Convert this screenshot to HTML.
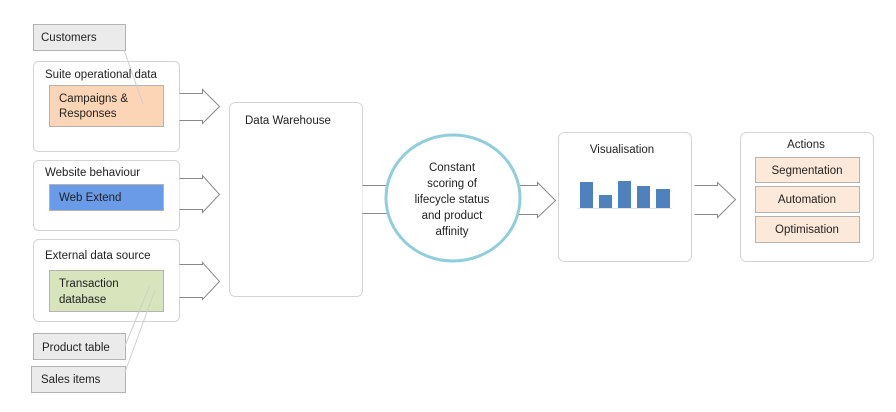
<!DOCTYPE html>
<html><head><meta charset="utf-8"><style>body{margin:0;background:#fff}svg{display:block}text{font-family:"Liberation Sans",sans-serif;font-size:11.5px;fill:#222}</style></head><body>
<svg width="896" height="412" viewBox="0 0 896 412" xmlns="http://www.w3.org/2000/svg">
<g fill="#fff" stroke="#d4d4d4">
<rect x="33.5" y="61.5" width="146" height="90" rx="5"/>
<rect x="33.5" y="160.5" width="146" height="70" rx="5"/>
<rect x="33.5" y="239.5" width="146" height="82" rx="5"/>
<rect x="229.5" y="102.5" width="133" height="194" rx="6"/>
<rect x="558.5" y="132.5" width="133" height="129" rx="6"/>
<rect x="740.5" y="132.5" width="133" height="129" rx="6"/>
</g>
<g stroke="#b3b3b3">
<rect x="33.5" y="24.5" width="92" height="26" fill="#ebebeb"/>
<rect x="33.5" y="333.5" width="92" height="26" fill="#ebebeb"/>
<rect x="31.5" y="366.5" width="94" height="26" fill="#ebebeb"/>
<rect x="49.5" y="85.5" width="114" height="41" fill="#fbd5b5"/>
<rect x="49.5" y="184.5" width="114" height="26" fill="#6a9be6"/>
<rect x="49.5" y="270.5" width="114" height="41" fill="#d8e4bc"/>
<rect x="755.5" y="157.5" width="104" height="25" fill="#fde9d9"/>
<rect x="755.5" y="186.5" width="104" height="26" fill="#fde9d9"/>
<rect x="755.5" y="216.5" width="104" height="26" fill="#fde9d9"/>
</g>
<g stroke="#cfcfcf" fill="none">
<line x1="124" y1="50" x2="143" y2="104"/>
<line x1="125" y1="346" x2="150" y2="285"/>
<line x1="125" y1="372" x2="155" y2="290"/>
</g>
<g fill="#fff" stroke="#888">
<path d="M179.5 93.5H202.5V89.5L219.5 106.5L202.5 123.5V120.5H179.5"/>
<path d="M179.5 178.5H202.5V175.5L219.5 194.5L202.5 212.5V209.5H179.5"/>
<path d="M179.5 264.5H202.5V262.5L219.5 281.5L202.5 299.5V297.5H179.5"/>
<path d="M362.5 185.5H395V213.5H362.5"/>
<path d="M515 185.5H537.5V182.5L555.5 200.5L537.5 217.5V214.5H515"/>
<path d="M694.5 185.5H717.5V182.5L735.5 199.5L717.5 217.5V214.5H694.5"/>
</g>
<ellipse cx="453" cy="198" rx="67" ry="63" fill="#fff" stroke="#92cddc" stroke-width="3"/>
<g fill="#4f81bd">
<rect x="580" y="182" width="13" height="26"/>
<rect x="599" y="195" width="13" height="13"/>
<rect x="618" y="181" width="13" height="27"/>
<rect x="637" y="186" width="13" height="22"/>
<rect x="656" y="189" width="14" height="19"/>
</g>
<line x1="577" y1="208.5" x2="672" y2="208.5" stroke="#e6e6e6"/>
<text x="41" y="41">Customers</text>
<text x="45" y="78">Suite operational data</text>
<text x="59" y="102">Campaigns &amp;</text>
<text x="59" y="117">Responses</text>
<text x="45" y="176">Website behaviour</text>
<text x="59" y="201">Web Extend</text>
<text x="45" y="259">External data source</text>
<text x="59" y="287">Transaction</text>
<text x="59" y="303">database</text>
<text x="42" y="351">Product table</text>
<text x="41" y="383">Sales items</text>
<text x="245" y="124">Data Warehouse</text>
<g text-anchor="middle">
<text x="452" y="171">Constant</text>
<text x="452" y="187">scoring of</text>
<text x="452" y="203">lifecycle status</text>
<text x="452" y="219">and product</text>
<text x="452" y="235">affinity</text>
<text x="622" y="153">Visualisation</text>
<text x="806" y="148">Actions</text>
<text x="807" y="174">Segmentation</text>
<text x="807" y="203">Automation</text>
<text x="807" y="233">Optimisation</text>
</g>
</svg>
</body></html>
